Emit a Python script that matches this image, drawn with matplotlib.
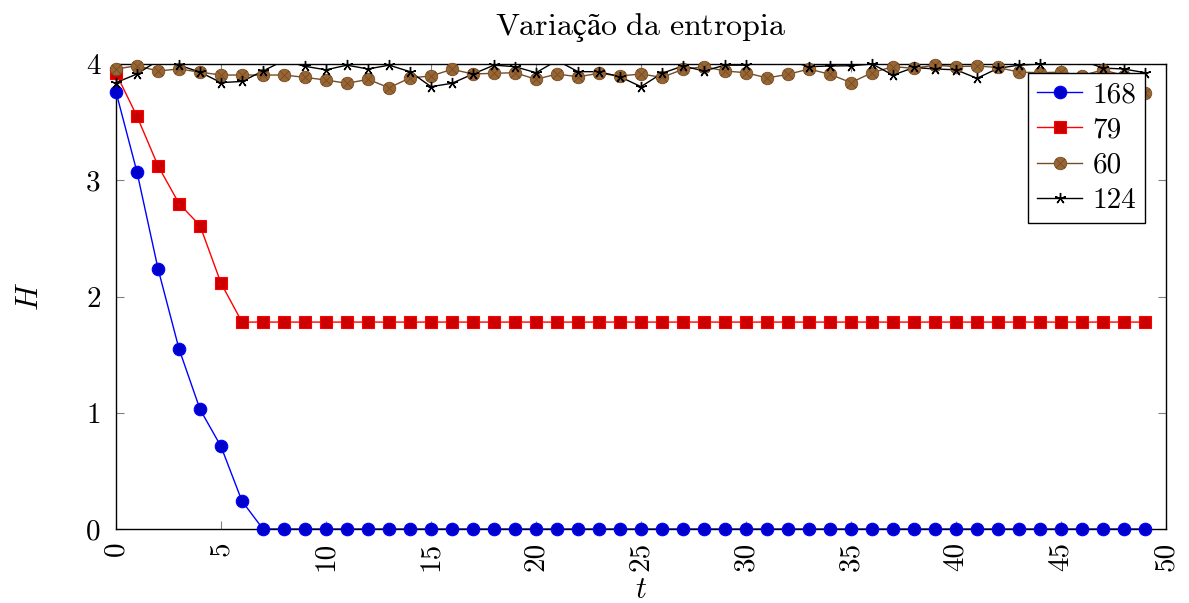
import numpy as np
import matplotlib
matplotlib.use("Agg")
import matplotlib.pyplot as plt
from matplotlib.path import Path
from matplotlib.lines import Line2D

plt.rcParams['font.family'] = ['cmr10', 'DejaVu Serif']
plt.rcParams['mathtext.fontset'] = 'cm'
plt.rcParams['axes.formatter.use_mathtext'] = True

t = np.arange(50)

h168 = [3.76, 3.07, 2.24, 1.55, 1.03, 0.71, 0.24] + [0.0] * 43
h79 = [3.92, 3.55, 3.125, 2.80, 2.61, 2.115] + [1.78] * 44
h60 = [3.957, 3.985, 3.94, 3.957, 3.93, 3.905, 3.905, 3.905, 3.905, 3.885,
       3.862, 3.834, 3.868, 3.796, 3.88, 3.897, 3.954, 3.914, 3.92, 3.925,
       3.868, 3.914, 3.89, 3.92, 3.897, 3.914, 3.885, 3.954, 3.977, 3.94,
       3.925, 3.88, 3.911, 3.957, 3.911, 3.84, 3.925, 3.977, 3.963, 3.99,
       3.977, 3.983, 3.97, 3.93, 3.925, 3.93, 3.90, 3.95, 3.90, 3.75]
h124 = [3.84, 3.914, 4.03, 3.99, 3.93, 3.84, 3.85, 3.94, 4.03, 3.98,
        3.95, 3.99, 3.957, 3.99, 3.934, 3.805, 3.834, 3.914, 3.99, 3.977,
        3.925, 4.03, 3.934, 3.934, 3.89, 3.805, 3.92, 3.983, 3.94, 3.99,
        3.99, 4.03, 4.03, 3.977, 3.983, 3.985, 4.0, 3.905, 3.97, 3.957,
        3.95, 3.877, 3.963, 3.99, 4.0, 4.03, 4.03, 3.965, 3.957, 3.925]

labels = ['168', '79', '60', '124']
series = [h168, h79, h60, h124]
xticks = list(range(0, 51, 5))
yticks = [0, 1, 2, 3, 4]
title = 'Variação da entropia'

# otimes marker: circle with a diagonal cross
circ = Path.unit_circle()
d = 0.7071
cross = Path([(-d, -d), (d, d), (-d, d), (d, -d)],
             [Path.MOVETO, Path.LINETO, Path.MOVETO, Path.LINETO])
otimes = Path.make_compound_path(circ, cross)

styles = [
    dict(color='#0000ff', marker='o', mfc='#0000cc', mec='#0000ff', ms=9),
    dict(color='#ff0000', marker='s', mfc='#cc0000', mec='#ff0000', ms=8),
    dict(color='#734d26', marker=otimes, mfc='#996633', mec='#734d26', ms=9, mew=0.6),
    dict(color='#000000', marker=(5, 2, 0), mfc='none', mec='#000000', ms=8, mew=1.0),
]

fig = plt.figure(figsize=(11.89, 6.03), dpi=100)
ax = fig.add_axes([116 / 1189, 1 - 529 / 603, 1050 / 1189, 465 / 603])

handles = []
for lab, h, st in zip(labels, series, styles):
    h = np.asarray(h, dtype=float)
    ax.plot(t, h, color=st['color'], lw=1.0, zorder=2, clip_on=True)
    hm = np.ma.masked_where(h > 4.001, h)
    ax.plot(t, hm, linestyle='none', marker=st['marker'], ms=st['ms'],
            mfc=st['mfc'], mec=st['mec'], mew=st.get('mew', 0.8),
            zorder=3, clip_on=False)
    handles.append(Line2D([], [], color=st['color'], lw=1.0, marker=st['marker'],
                          ms=st['ms'], mfc=st['mfc'], mec=st['mec'],
                          mew=st.get('mew', 0.8), label=lab))

ax.set_xlim(0, 50)
ax.set_ylim(0, 4)
ax.set_xticks(xticks)
ax.set_yticks(yticks)
ax.set_xticklabels([str(v) for v in xticks], rotation=90, fontsize=21)
ax.set_yticklabels([str(v) for v in yticks], fontsize=21)
ax.tick_params(direction='in', length=6, width=0.8, color='#808080',
               top=True, right=True)
ax.tick_params(axis='x', pad=9)
ax.tick_params(axis='y', pad=11)
for s in ax.spines.values():
    s.set_linewidth(1.0)
    s.set_zorder(2.5)

ax.set_xlabel('$t$', fontsize=22, labelpad=4)
ax.set_ylabel('$H$', fontsize=22, labelpad=30)
title_math = '$\\mathrm{' + title.replace(' ', '\\ ') + '}$'
ax.set_title(title_math, fontsize=23, pad=21)

leg = ax.legend(handles=handles, loc='upper right', bbox_to_anchor=(0.98, 0.98),
                borderaxespad=0, fontsize=21, frameon=True, fancybox=False,
                framealpha=1, edgecolor='black', handlelength=1.55,
                handletextpad=0.35, labelspacing=0.3, borderpad=0.3)
leg.get_frame().set_linewidth(1.0)
leg.set_zorder(5)

fig.savefig('out.png', dpi=100)
